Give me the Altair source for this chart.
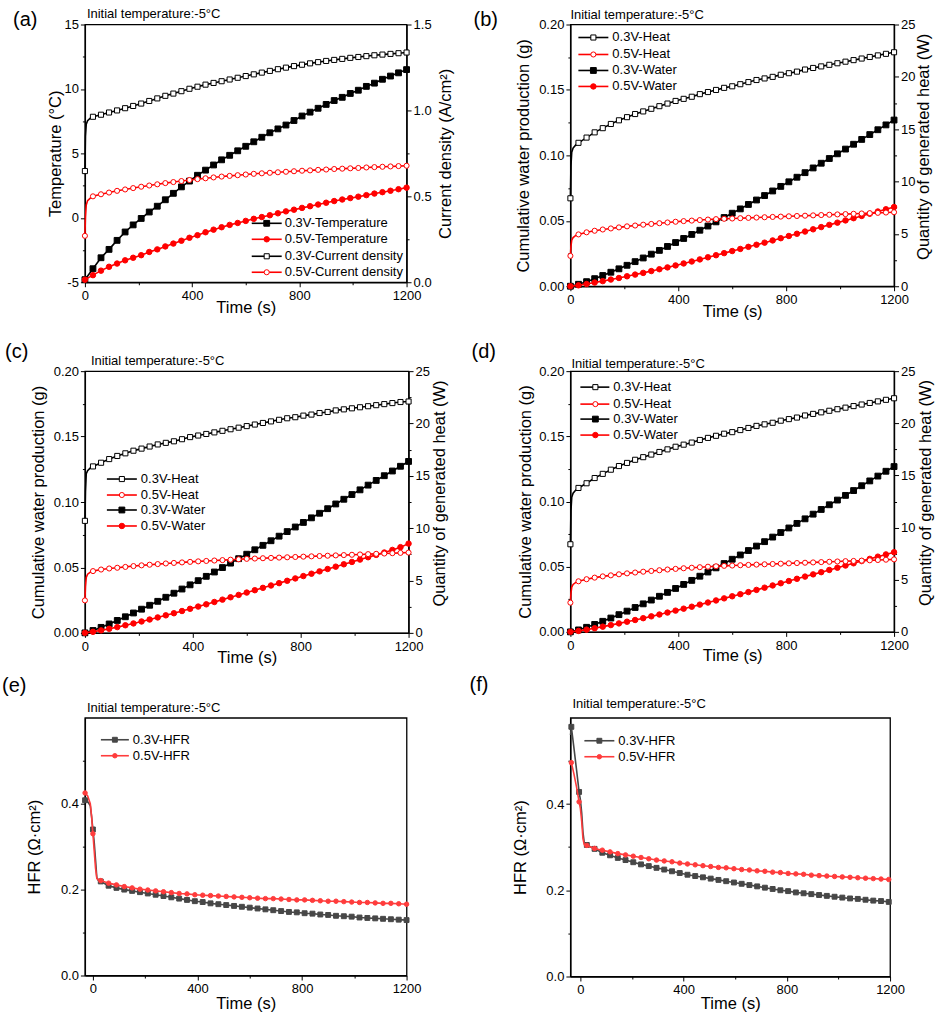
import altair as alt
import pandas as pd

FONT = "Liberation Sans"
BLACK, RED = "#000000", "#ff0000"
GREY, PINK = "#474747", "#ff3c3c"
LINE_W = 1.6

# ---- time bases (s) ----
T30 = list(range(0, 1201, 30))
T_FAST = [0, 2, 5, 10, 20] + T30[1:]
T_E = [-30, -20, -10, -5, 0, 5, 10, 15, 20] + T30[1:]
T_F = [-38, -35, -25, -15, -5, 0, 5, 10, 15] + list(range(25, 1196, 30))

# ---- (a) temperature (°C) and current density (A/cm²) ----
A_TEMP_03 = [-4.8, -3.95, -3.1, -2.45, -1.75, -1.1, -0.55, -0.05, 0.45, 0.9, 1.4,
             1.9, 2.4, 2.85, 3.3, 3.7, 4.1, 4.5, 4.85, 5.2, 5.55, 5.9, 6.25, 6.6,
             6.9, 7.2, 7.55, 7.9, 8.2, 8.5, 8.8, 9.1, 9.35, 9.65, 9.9, 10.2, 10.45,
             10.75, 11.0, 11.25, 11.5]
A_TEMP_05 = [-4.8, -4.45, -4.1, -3.8, -3.55, -3.3, -3.1, -2.9, -2.65, -2.45, -2.22,
             -2.0, -1.78, -1.55, -1.35, -1.12, -0.92, -0.73, -0.55, -0.4, -0.24,
             -0.08, 0.06, 0.2, 0.35, 0.5, 0.63, 0.77, 0.9, 1.03, 1.17, 1.3, 1.42,
             1.53, 1.64, 1.76, 1.88, 1.99, 2.1, 2.22, 2.34]
A_CUR_03 = [0.647, 0.85, 0.92, 0.94, 0.955, 0.963, 0.975, 0.988, 1.0, 1.013, 1.026,
            1.04, 1.055, 1.07, 1.085, 1.098, 1.112, 1.126, 1.138, 1.15, 1.16, 1.17,
            1.18, 1.19, 1.2, 1.21, 1.22, 1.23, 1.24, 1.249, 1.258, 1.266, 1.274,
            1.281, 1.288, 1.294, 1.3, 1.306, 1.311, 1.316, 1.321, 1.325, 1.329,
            1.333, 1.337]
A_CUR_05 = [0.27, 0.38, 0.45, 0.475, 0.49, 0.5, 0.512, 0.522, 0.532, 0.54, 0.548,
            0.556, 0.563, 0.57, 0.577, 0.583, 0.589, 0.595, 0.6, 0.605, 0.61, 0.615,
            0.619, 0.623, 0.627, 0.631, 0.634, 0.637, 0.64, 0.643, 0.646, 0.649,
            0.651, 0.654, 0.656, 0.659, 0.661, 0.663, 0.665, 0.668, 0.67, 0.672,
            0.674, 0.676, 0.678]

# ---- (b) heat (W) and cumulative water (g) ----
B_HEAT_03 = [8.4, 11.5, 12.8, 13.2, 13.5, 13.7, 14.2, 14.7, 15.1, 15.5, 15.85, 16.15,
             16.45, 16.7, 16.95, 17.2, 17.45, 17.7, 17.9, 18.1, 18.35, 18.55, 18.75,
             18.95, 19.1, 19.3, 19.5, 19.7, 19.85, 20.0, 20.2, 20.35, 20.5, 20.7,
             20.85, 21.0, 21.15, 21.3, 21.45, 21.6, 21.75, 21.9, 22.05, 22.2, 22.35]
B_HEAT_05 = [2.9, 3.8, 4.4, 4.65, 4.85, 4.95, 5.15, 5.3, 5.42, 5.52, 5.62, 5.72, 5.8,
             5.88, 5.95, 6.02, 6.09, 6.16, 6.22, 6.27, 6.32, 6.37, 6.41, 6.44, 6.47,
             6.5, 6.53, 6.56, 6.59, 6.62, 6.65, 6.68, 6.71, 6.74, 6.77, 6.8, 6.83,
             6.86, 6.89, 6.92, 6.95, 6.98, 7.01, 7.04, 7.07]
B_WATER_03 = [0, 0.0015, 0.0035, 0.0058, 0.0082, 0.0107, 0.0133, 0.016, 0.0188,
              0.0216, 0.0245, 0.0274, 0.0304, 0.0334, 0.0365, 0.0396, 0.0428, 0.046,
              0.0492, 0.0525, 0.0558, 0.0591, 0.0625, 0.0659, 0.0693, 0.0728, 0.0763,
              0.0798, 0.0833, 0.0868, 0.0904, 0.094, 0.0976, 0.1012, 0.1048, 0.1085,
              0.1122, 0.1159, 0.1196, 0.1233, 0.127]
B_WATER_05 = [0, 0.0007, 0.0017, 0.0028, 0.0039, 0.0051, 0.0063, 0.0076, 0.0089,
              0.0102, 0.0116, 0.013, 0.0144, 0.0159, 0.0174, 0.0189, 0.0205, 0.0221,
              0.0237, 0.0253, 0.0269, 0.0285, 0.0301, 0.0317, 0.0333, 0.035, 0.0367,
              0.0384, 0.0401, 0.0418, 0.0435, 0.0452, 0.0469, 0.0486, 0.0503, 0.052,
              0.0537, 0.0554, 0.0571, 0.0588, 0.0605]

# ---- (c) ----
C_HEAT_03 = [10.7, 13.5, 15.2, 15.5, 15.75, 15.9, 16.25, 16.6, 16.9, 17.15, 17.4,
             17.6, 17.8, 18.0, 18.15, 18.3, 18.5, 18.7, 18.85, 19.0, 19.15, 19.3,
             19.45, 19.6, 19.75, 19.9, 20.05, 20.2, 20.35, 20.5, 20.6, 20.75, 20.85,
             21.0, 21.1, 21.25, 21.35, 21.45, 21.55, 21.65, 21.75, 21.85, 21.95,
             22.05, 22.1]
C_HEAT_05 = [3.1, 4.4, 5.3, 5.6, 5.8, 5.9, 6.05, 6.15, 6.22, 6.3, 6.38, 6.45, 6.51,
             6.57, 6.63, 6.68, 6.73, 6.78, 6.83, 6.87, 6.91, 6.95, 6.99, 7.03, 7.07,
             7.1, 7.13, 7.16, 7.19, 7.22, 7.25, 7.28, 7.31, 7.34, 7.37, 7.4, 7.43,
             7.46, 7.49, 7.52, 7.55, 7.58, 7.61, 7.64, 7.67]
C_WATER_03 = [0, 0.0018, 0.0042, 0.0068, 0.0095, 0.0123, 0.0152, 0.0181, 0.0211,
              0.0241, 0.0272, 0.0303, 0.0335, 0.0367, 0.0399, 0.0432, 0.0465, 0.0499,
              0.0533, 0.0567, 0.0601, 0.0635, 0.0669, 0.0704, 0.0739, 0.0774, 0.0809,
              0.0844, 0.0879, 0.0914, 0.0949, 0.0985, 0.1021, 0.1057, 0.1093, 0.1129,
              0.1165, 0.1201, 0.1237, 0.1273, 0.131]
C_WATER_05 = [0, 0.0008, 0.0019, 0.0031, 0.0044, 0.0058, 0.0072, 0.0087, 0.0102,
              0.0118, 0.0134, 0.015, 0.0167, 0.0184, 0.0201, 0.0218, 0.0236, 0.0254,
              0.0272, 0.029, 0.0308, 0.0326, 0.0344, 0.0362, 0.038, 0.0398, 0.0416,
              0.0434, 0.0452, 0.047, 0.0488, 0.0506, 0.0524, 0.0542, 0.056, 0.0578,
              0.0596, 0.0614, 0.0634, 0.0655, 0.0682]

# ---- (d) ----
D_HEAT_03 = [8.4, 11.6, 12.9, 13.3, 13.6, 13.8, 14.25, 14.75, 15.15, 15.55, 15.9,
             16.2, 16.5, 16.75, 17.0, 17.25, 17.5, 17.75, 17.95, 18.15, 18.4, 18.6,
             18.8, 19.0, 19.15, 19.35, 19.55, 19.75, 19.9, 20.05, 20.25, 20.4, 20.55,
             20.75, 20.9, 21.05, 21.2, 21.35, 21.5, 21.65, 21.8, 21.95, 22.1, 22.25,
             22.4]
D_HEAT_05 = [2.8, 3.7, 4.3, 4.55, 4.75, 4.85, 5.05, 5.2, 5.32, 5.42, 5.52, 5.61,
             5.69, 5.77, 5.84, 5.91, 5.98, 6.04, 6.1, 6.15, 6.2, 6.25, 6.29, 6.33,
             6.36, 6.39, 6.42, 6.45, 6.48, 6.51, 6.54, 6.57, 6.6, 6.63, 6.66, 6.69,
             6.72, 6.75, 6.78, 6.8, 6.83, 6.86, 6.89, 6.92, 6.95]
D_WATER_03 = [0, 0.0015, 0.0035, 0.0057, 0.0081, 0.0106, 0.0132, 0.0159, 0.0187,
              0.0215, 0.0244, 0.0273, 0.0303, 0.0333, 0.0364, 0.0395, 0.0427, 0.0459,
              0.0491, 0.0524, 0.0557, 0.059, 0.0624, 0.0658, 0.0692, 0.0727, 0.0762,
              0.0797, 0.0832, 0.0867, 0.0903, 0.0939, 0.0975, 0.1011, 0.1047, 0.1084,
              0.1121, 0.1158, 0.1195, 0.1232, 0.1268]
D_WATER_05 = [0, 0.0007, 0.0017, 0.0028, 0.004, 0.0052, 0.0065, 0.0078, 0.0091,
              0.0105, 0.0119, 0.0133, 0.0148, 0.0163, 0.0178, 0.0193, 0.0209, 0.0225,
              0.0241, 0.0257, 0.0273, 0.0289, 0.0305, 0.0322, 0.0339, 0.0356, 0.0373,
              0.039, 0.0407, 0.0424, 0.0441, 0.0458, 0.0475, 0.0492, 0.0509, 0.0526,
              0.0543, 0.056, 0.0577, 0.0594, 0.0611]

# ---- (e), (f) high-frequency resistance (Ω·cm²) ----
E_HFR_03 = [0.408, 0.405, 0.395, 0.37, 0.34, 0.31, 0.27, 0.228, 0.222, 0.219, 0.209,
            0.204, 0.2, 0.197, 0.194, 0.191, 0.188, 0.185, 0.182, 0.179, 0.176, 0.173,
            0.171, 0.168, 0.166, 0.164, 0.162, 0.16, 0.158, 0.156, 0.154, 0.152, 0.15,
            0.148, 0.147, 0.145, 0.144, 0.142, 0.141, 0.139, 0.138, 0.137, 0.135,
            0.134, 0.133, 0.132, 0.131, 0.13, 0.129]
E_HFR_05 = [0.425, 0.418, 0.4, 0.37, 0.33, 0.29, 0.25, 0.226, 0.223, 0.221, 0.215,
            0.211, 0.207, 0.204, 0.201, 0.199, 0.197, 0.195, 0.193, 0.191, 0.19,
            0.188, 0.187, 0.186, 0.185, 0.184, 0.183, 0.182, 0.181, 0.18, 0.179,
            0.179, 0.178, 0.177, 0.176, 0.176, 0.175, 0.174, 0.173, 0.173, 0.172,
            0.171, 0.17, 0.17, 0.169, 0.168, 0.168, 0.167, 0.166]
F_HFR_03 = [0.56, 0.579, 0.53, 0.48, 0.428, 0.41, 0.38, 0.335, 0.31, 0.305, 0.296,
            0.287, 0.281, 0.275, 0.27, 0.265, 0.26, 0.256, 0.252, 0.248, 0.244, 0.24,
            0.236, 0.233, 0.23, 0.227, 0.224, 0.221, 0.218, 0.215, 0.212, 0.209,
            0.206, 0.203, 0.2, 0.198, 0.195, 0.193, 0.191, 0.189, 0.187, 0.185, 0.183,
            0.181, 0.18, 0.178, 0.176, 0.175, 0.173]
F_HFR_05 = [0.49, 0.496, 0.47, 0.44, 0.405, 0.39, 0.36, 0.32, 0.306, 0.304, 0.297,
            0.293, 0.289, 0.285, 0.282, 0.279, 0.276, 0.273, 0.27, 0.268, 0.266,
            0.263, 0.261, 0.259, 0.257, 0.255, 0.253, 0.252, 0.25, 0.248, 0.247,
            0.245, 0.244, 0.242, 0.241, 0.239, 0.238, 0.237, 0.235, 0.234, 0.233,
            0.232, 0.231, 0.23, 0.229, 0.228, 0.227, 0.226, 0.225]

CONDITION = "Initial temperature:-5°C"
X_TICKS = [0, 200, 400, 600, 800, 1000, 1200]


def every30(times, start=0):
    return [(t - start) % 30 == 0 for t in times]


def make_axis(orient, values, major, fmt, title, extent, pad, **kw):
    test = f"abs(datum.value / {major} - round(datum.value / {major})) < 0.001"
    return alt.Axis(
        orient=orient, values=values, title=title,
        labelExpr=f"({test}) ? {fmt} : ''",
        tickSize={"condition": {"test": f"!({test})", "value": 2.5}, "value": 4.5},
        minExtent=extent, maxExtent=extent, titlePadding=pad,
        labelOverlap=False, labelFlush=False, grid=False, **kw)


def series(t, v, marks, style, x, y):
    color, shape, filled, size = style
    df = pd.DataFrame({"t": t, "v": v, "m": marks})
    base = alt.Chart(df).encode(x=x, y=y)
    line = base.mark_line(color=color, strokeWidth=LINE_W)
    pts = base.transform_filter("datum.m").mark_point(
        shape=shape, size=size, filled=True, fill=color if filled else "white",
        stroke=color, strokeWidth=1, opacity=1)
    return [line, pts]


def legend(entries, x0, x1, xm, tx, ys):
    out = []
    for (label, style), yy in zip(entries, ys):
        color, shape, filled, size = style
        d = pd.DataFrame({"s": [label]})
        out.append(alt.Chart(d).mark_rule(color=color, strokeWidth=LINE_W)
                   .encode(x=alt.value(x0), x2=alt.value(x1), y=alt.value(yy)))
        out.append(alt.Chart(d).mark_point(
            shape=shape, size=size, filled=True, fill=color if filled else "white",
            stroke=color, strokeWidth=1, opacity=1)
            .encode(x=alt.value(xm), y=alt.value(yy)))
        out.append(alt.Chart(d).mark_text(align="left", baseline="middle", font=FONT,
                                          fontSize=13, color=BLACK)
                   .encode(x=alt.value(tx), y=alt.value(yy), text="s:N"))
    return out


def captions(tag, tag_xy, title_xy):
    lab = alt.Chart(pd.DataFrame({"s": [tag]})).mark_text(
        align="left", baseline="alphabetic", font=FONT, fontSize=20, color=BLACK
    ).encode(x=alt.value(tag_xy[0]), y=alt.value(tag_xy[1]), text="s:N")
    ttl = alt.Chart(pd.DataFrame({"s": [CONDITION]})).mark_text(
        align="left", baseline="alphabetic", font=FONT, fontSize=13, color=BLACK
    ).encode(x=alt.value(title_xy[0]), y=alt.value(title_xy[1]), text="s:N")
    return [lab, ttl]


def x_enc(xdom, pad):
    ax = make_axis("bottom", X_TICKS, 400, "'' + datum.value", "Time (s)", 14, pad,
                   labelPadding=3)
    return alt.X("t:Q", scale=alt.Scale(domain=xdom, nice=False, zero=False), axis=ax)


def y_enc(dom, axis):
    return alt.Y("v:Q", scale=alt.Scale(domain=dom, nice=False, zero=False), axis=axis)


# marker styles: colour, shape, filled, size
S03_FILL = (BLACK, "square", True, 34)
S05_FILL = (RED, "circle", True, 30)
S03_OPEN = (BLACK, "square", False, 26)
S05_OPEN = (RED, "circle", False, 26)
H03 = (GREY, "square", True, 24)
H05 = (PINK, "circle", True, 20)


def water_heat_panel(tag, w, h, heat03, heat05, water03, water05, lpad, rpad, xpad,
                     leg, tag_xy, title_xy):
    x = x_enc([0, 1200], xpad)
    yl = y_enc([0, 0.2], make_axis("left", [i * 0.025 for i in range(9)], 0.05,
                                     "format(datum.value, '.2f')",
                                     "Cumulative water production (g)", lpad[0], lpad[1]))
    yr = y_enc([0, 25], make_axis("right", [i * 2.5 for i in range(11)], 5,
                                    "'' + datum.value", "Quantity of generated heat (W)",
                                    rpad[0], rpad[1], titleAngle=270, titleBaseline="top",
                                    titleY=h / 2 - 9))
    left = alt.layer(*series(T30, water03, every30(T30), S03_FILL, x, yl),
                     *series(T30, water05, every30(T30), S05_FILL, x, yl))
    right = alt.layer(*series(T_FAST, heat03, every30(T_FAST), S03_OPEN, x, yr),
                      *series(T_FAST, heat05, every30(T_FAST), S05_OPEN, x, yr))
    entries = [("0.3V-Heat", S03_OPEN), ("0.5V-Heat", S05_OPEN),
               ("0.3V-Water", S03_FILL), ("0.5V-Water", S05_FILL)]
    return alt.layer(left, right, *legend(entries, *leg), *captions(tag, tag_xy, title_xy)
                     ).resolve_scale(y="independent").properties(width=w, height=h)


def hfr_panel(tag, w, h, times, start, v03, v05, xdom, xpad, leg, tag_xy, title_xy):
    x = x_enc(xdom, xpad)
    y = y_enc([0, 0.6], make_axis("left", [i * 0.1 for i in range(7)], 0.2,
                                  "format(datum.value, '.1f')", "HFR (Ω·cm²)", 39, 3))
    marks = every30(times, start)
    body = alt.layer(*series(times, v03, marks, H03, x, y),
                     *series(times, v05, marks, H05, x, y))
    entries = [("0.3V-HFR", H03), ("0.5V-HFR", H05)]
    return alt.layer(body, *legend(entries, *leg), *captions(tag, tag_xy, title_xy)
                     ).resolve_scale(y="independent").properties(width=w, height=h)


# (a) temperature / current density
xa = x_enc([0, 1200], 3)
ya = y_enc([-5, 15], make_axis("left", [-5 + i * 2.5 for i in range(9)], 5,
                               "'' + datum.value", "Temperature (°C)", 19, 2))
yb = y_enc([0, 1.5], make_axis("right", [i * 0.25 for i in range(7)], 0.5,
                               "format(datum.value, '.1f')", "Current density (A/cm²)",
                               27, 4, titleAngle=270, titleBaseline="top"))
a_left = alt.layer(*series(T30, A_TEMP_03, every30(T30), S03_FILL, xa, ya),
                   *series(T30, A_TEMP_05, every30(T30), S05_FILL, xa, ya))
a_right = alt.layer(*series(T_FAST, A_CUR_03, every30(T_FAST), S03_OPEN, xa, yb),
                    *series(T_FAST, A_CUR_05, every30(T_FAST), S05_OPEN, xa, yb))
a_entries = [("0.3V-Temperature", S03_FILL), ("0.5V-Temperature", S05_FILL),
             ("0.3V-Current density", S03_OPEN), ("0.5V-Current density", S05_OPEN)]
panel_a = alt.layer(a_left, a_right,
                    *legend(a_entries, 167, 197, 182, 200, [199, 215, 232, 248]),
                    *captions("(a)", (-72, 1), (2, -7))
                    ).resolve_scale(y="independent").properties(width=322, height=258)

panel_b = water_heat_panel("(b)", 324, 262, B_HEAT_03, B_HEAT_05, B_WATER_03, B_WATER_05,
                           (36, 3), (19, 2), 3, (8, 38, 23, 42, [13, 30, 46, 62]),
                           (-97, 1), (0, -6))
panel_c = water_heat_panel("(c)", 324, 262, C_HEAT_03, C_HEAT_05, C_WATER_03, C_WATER_05,
                           (35, 3), (20, 3), 3, (22, 52, 37, 56, [108, 124, 139, 155]),
                           (-80, -13), (6, -6))
panel_d = water_heat_panel("(d)", 324, 261, D_HEAT_03, D_HEAT_05, D_WATER_03, D_WATER_05,
                           (34, 3), (20, 3), 2, (10, 39, 25, 43, [16, 33, 48, 64]),
                           (-99, -13), (1, -3))
panel_e = hfr_panel("(e)", 322, 258, T_E, 0, E_HFR_03, E_HFR_05, [-30.6, 1200], 6,
                    (16, 44, 30, 48, [22, 38]), (-83, -26), (2, -6))
panel_f = hfr_panel("(f)", 320, 259, T_F, -35, F_HFR_03, F_HFR_05, [-38.7, 1200], 5,
                    (14, 44, 29, 48, [23, 39]), (-101, -27), (2, -10))

chart = alt.concat(
    panel_a, panel_b, panel_c, panel_d, panel_e, panel_f,
    columns=2, spacing={"row": 85, "column": 162}, bounds="flush",
).resolve_scale(x="independent", y="independent").properties(
    padding={"left": 1, "top": 6, "right": 4, "bottom": 4}, background="white"
).configure_view(
    stroke=BLACK, strokeWidth=1.3
).configure_axis(
    labelFont=FONT, labelFontSize=13, labelColor=BLACK, labelPadding=2,
    titleFont=FONT, titleFontSize=16.5, titleFontWeight="normal", titleColor=BLACK,
    domainColor=BLACK, domainWidth=1.3, tickColor=BLACK, tickWidth=1,
)

chart.save("out.html", embed_options={"renderer": "svg", "actions": False})
